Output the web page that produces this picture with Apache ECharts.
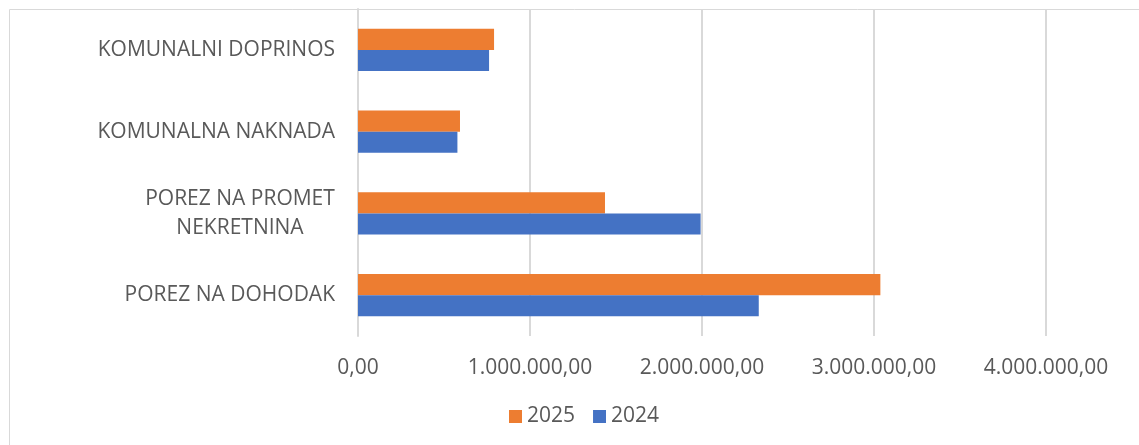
<!DOCTYPE html>
<html>
<head>
<meta charset="utf-8">
<script src="https://cdn.jsdelivr.net/npm/echarts@6/dist/echarts.min.js"></script>
<style>
  html, body { margin: 0; padding: 0; background: #fff; }
  #chart { width: 1139px; height: 445px; }
</style>
</head>
<body>
<div id="chart"></div>
<script>
// categories from bottom to top (as the category axis draws them)
const categories = ['POREZ NA DOHODAK', 'POREZ NA PROMET\nNEKRETNINA', 'KOMUNALNA NAKNADA', 'KOMUNALNI DOPRINOS'];
const seriesNames = ['2025', '2024'];
const values2025 = [3037000, 1436000, 593000, 791000];
const values2024 = [2330000, 1992000, 578000, 762000];
const xTicks = [0, 1000000, 2000000, 3000000, 4000000];

const FONT = '"Open Sans", sans-serif';
const TEXT = '#595959';

// 1.000.000,00 style
function fmtNum(v) {
  const s = Math.round(v).toString().replace(/\B(?=(\d{3})+(?!\d))/g, '.');
  return s + ',00';
}

const chart = echarts.init(document.getElementById('chart'));
chart.setOption({
  animation: false,
  textStyle: { fontFamily: FONT },
  graphic: [{
    type: 'rect',
    shape: { x: 9.5, y: 9.5, width: 1200, height: 500 },
    style: { fill: 'none', stroke: '#d9d9d9', lineWidth: 1 },
    silent: true
  }],
  grid: { left: 358, right: 93, top: 9, bottom: 109, containLabel: false },
  legend: {
    data: seriesNames,
    top: 401,
    left: 504,
    itemWidth: 13,
    itemHeight: 13,
    itemGap: 18,
    icon: 'rect',
    textStyle: { color: TEXT, fontSize: 21, fontFamily: FONT }
  },
  xAxis: {
    type: 'value',
    min: xTicks[0],
    max: xTicks[xTicks.length - 1],
    interval: xTicks[1] - xTicks[0],
    axisLine: { show: false },
    axisTick: { show: false },
    splitLine: { lineStyle: { color: '#d9d9d9', width: 2 } },
    axisLabel: { color: TEXT, fontSize: 21, fontFamily: FONT, margin: 22, formatter: fmtNum }
  },
  yAxis: {
    type: 'category',
    data: categories,
    axisLine: { show: true, lineStyle: { color: '#d9d9d9', width: 2 } },
    axisTick: { show: false },
    axisLabel: {
      color: TEXT, fontSize: 21, fontFamily: FONT, margin: 23, lineHeight: 29,
      formatter: function (v) {
        if (v.indexOf('\n') >= 0) {
          return v.split('\n').map(l => '{c|' + l + '}').join('\n');
        }
        return v;
      },
      rich: { c: { width: 190, align: 'center', color: TEXT, fontSize: 21, fontFamily: FONT, lineHeight: 29 } }
    }
  },
  series: [
    { name: seriesNames[0], type: 'bar', data: values2025, barGap: '0%', barCategoryGap: '48.6%',
      itemStyle: { color: '#ed7d31' } },
    { name: seriesNames[1], type: 'bar', data: values2024, barGap: '0%', barCategoryGap: '48.6%',
      itemStyle: { color: '#4472c4' } }
  ]
});
</script>
</body>
</html>
